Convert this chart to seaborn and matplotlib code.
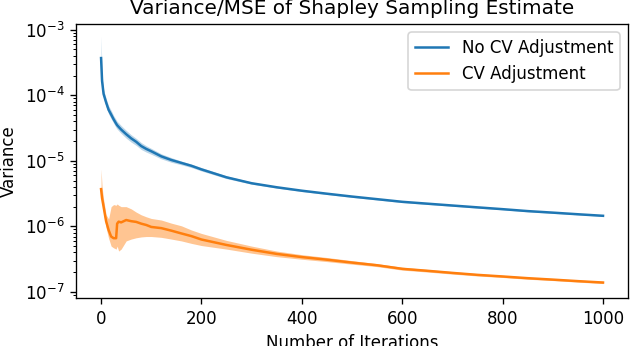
import numpy as np
import pandas as pd
import seaborn as sns
import matplotlib
matplotlib.use("Agg")
import matplotlib.pyplot as plt

# --- data ---
iterations = [0, 2, 5, 10, 15, 20, 25, 30, 32, 35, 40, 50, 60, 70, 80, 90, 100,
              120, 140, 160, 180, 200, 250, 300, 350, 400, 450, 500, 550, 600,
              650, 700, 750, 800, 850, 900, 950, 1000]

# no control variate
no_cv_mean = [3.7e-4, 1.65e-4, 1.05e-4, 7.8e-5, 6.0e-5, 5.1e-5, 4.3e-5, 3.7e-5,
              3.5e-5, 3.3e-5, 3.0e-5, 2.55e-5, 2.2e-5, 1.95e-5, 1.68e-5, 1.52e-5,
              1.40e-5, 1.17e-5, 1.03e-5, 9.3e-6, 8.4e-6, 7.4e-6, 5.6e-6, 4.55e-6,
              3.95e-6, 3.5e-6, 3.15e-6, 2.85e-6, 2.6e-6, 2.37e-6, 2.22e-6, 2.08e-6,
              1.95e-6, 1.83e-6, 1.71e-6, 1.62e-6, 1.53e-6, 1.45e-6]
no_cv_lo = [2.9e-4, 1.38e-4, 0.9e-4, 6.7e-5, 5.2e-5, 4.4e-5, 3.75e-5, 3.2e-5,
            3.05e-5, 2.88e-5, 2.62e-5, 2.22e-5, 1.93e-5, 1.72e-5, 1.49e-5, 1.36e-5,
            1.26e-5, 1.07e-5, 0.95e-5, 8.7e-6, 7.9e-6, 7.0e-6, 5.35e-6, 4.4e-6,
            3.83e-6, 3.4e-6, 3.06e-6, 2.77e-6, 2.53e-6, 2.31e-6, 2.16e-6, 2.03e-6,
            1.9e-6, 1.79e-6, 1.67e-6, 1.58e-6, 1.5e-6, 1.42e-6]
no_cv_hi = [8.0e-4, 2.1e-4, 1.22e-4, 9.0e-5, 6.9e-5, 5.9e-5, 4.9e-5, 4.25e-5,
            4.0e-5, 3.8e-5, 3.45e-5, 2.92e-5, 2.5e-5, 2.2e-5, 1.9e-5, 1.7e-5,
            1.55e-5, 1.28e-5, 1.12e-5, 9.9e-6, 8.9e-6, 7.9e-6, 5.9e-6, 4.75e-6,
            4.08e-6, 3.6e-6, 3.24e-6, 2.93e-6, 2.67e-6, 2.43e-6, 2.28e-6, 2.13e-6,
            2.0e-6, 1.87e-6, 1.75e-6, 1.66e-6, 1.56e-6, 1.48e-6]

# with control variate
cv_mean = [3.7e-6, 2.7e-6, 2.0e-6, 1.2e-6, 0.88e-6, 0.70e-6, 0.66e-6, 0.66e-6,
           1.10e-6, 1.18e-6, 1.15e-6, 1.25e-6, 1.20e-6, 1.17e-6, 1.10e-6, 1.05e-6,
           0.98e-6, 0.94e-6, 0.86e-6, 0.78e-6, 0.71e-6, 0.63e-6, 0.52e-6, 0.44e-6,
           0.38e-6, 0.34e-6, 0.31e-6, 0.28e-6, 0.255e-6, 0.225e-6, 0.21e-6, 0.195e-6,
           0.182e-6, 0.172e-6, 0.162e-6, 0.154e-6, 0.146e-6, 0.139e-6]
cv_lo = [3.5e-6, 2.3e-6, 1.6e-6, 0.95e-6, 0.66e-6, 0.50e-6, 0.47e-6, 0.45e-6,
         0.50e-6, 0.42e-6, 0.45e-6, 0.60e-6, 0.64e-6, 0.67e-6, 0.69e-6, 0.70e-6,
         0.70e-6, 0.68e-6, 0.64e-6, 0.60e-6, 0.55e-6, 0.51e-6, 0.45e-6, 0.39e-6,
         0.345e-6, 0.315e-6, 0.29e-6, 0.265e-6, 0.243e-6, 0.215e-6, 0.201e-6, 0.187e-6,
         0.175e-6, 0.166e-6, 0.156e-6, 0.149e-6, 0.141e-6, 0.134e-6]
cv_hi = [7.5e-6, 4.0e-6, 2.6e-6, 1.5e-6, 1.3e-6, 2.0e-6, 2.15e-6, 2.1e-6,
         2.2e-6, 2.1e-6, 2.0e-6, 2.0e-6, 1.85e-6, 1.65e-6, 1.5e-6, 1.4e-6,
         1.32e-6, 1.25e-6, 1.12e-6, 1.02e-6, 0.88e-6, 0.78e-6, 0.61e-6, 0.50e-6,
         0.42e-6, 0.37e-6, 0.335e-6, 0.30e-6, 0.27e-6, 0.238e-6, 0.22e-6, 0.204e-6,
         0.19e-6, 0.179e-6, 0.168e-6, 0.16e-6, 0.152e-6, 0.145e-6]

labels = ["No CV Adjustment", "CV Adjustment"]

df = pd.DataFrame({
    "iter": iterations * 2,
    "var": no_cv_mean + cv_mean,
    "method": [labels[0]] * len(iterations) + [labels[1]] * len(iterations),
})

fig = plt.figure(figsize=(630 / 120, 346 / 120), dpi=120)
ax = fig.add_axes([0.1206, 0.139, 0.997 - 0.1206, 0.931 - 0.139])

palette = {labels[0]: "#1f77b4", labels[1]: "#ff7f0e"}
sns.lineplot(data=df, x="iter", y="var", hue="method", palette=palette,
             linewidth=1.5, ax=ax)
ax.fill_between(iterations, no_cv_lo, no_cv_hi, color="#1f77b4", alpha=0.3, lw=0)
ax.fill_between(iterations, cv_lo, cv_hi, color="#ff7f0e", alpha=0.45, lw=0)

ax.set_yscale("log")
ax.set_ylim(0.81e-7, 1.23e-3)
ax.set_xlim(-50, 1050)
ax.set_xlabel("Number of Iterations")
ax.set_ylabel("Variance")
ax.set_title("Variance/MSE of Shapley Sampling Estimate")
ax.legend(loc="upper right")

fig.savefig("out.png", dpi=120)
